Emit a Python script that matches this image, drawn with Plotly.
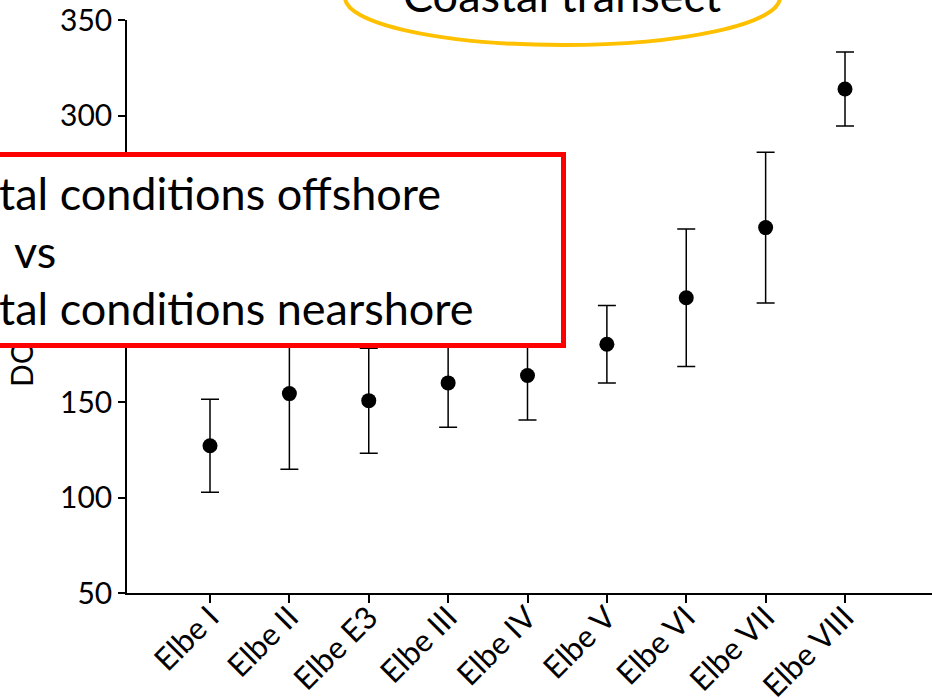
import plotly.graph_objects as go

# stations along the coastal transect
stations = ["Elbe I", "Elbe II", "Elbe E3", "Elbe III", "Elbe IV",
            "Elbe V", "Elbe VI", "Elbe VII", "Elbe VIII"]
station_idx = list(range(len(stations)))

# mean DOC and standard deviation per station
doc_mean = [127.1, 154.4, 150.7, 160.0, 163.9, 180.2, 204.6, 241.3, 313.9]
doc_sd = [24.3, 39.6, 27.5, 23.2, 23.3, 20.3, 36.0, 39.5, 19.4]

y_ticks = [50, 100, 150, 200, 250, 300, 350]

W, H = 932, 698
ML, MR, MT, MB = 127, 0, 20, 105
FONT = "Lato"


def px_x(px):
    # pixel column -> paper fraction
    return (px - ML) / (W - ML - MR)


def px_y(py):
    # pixel row -> paper fraction
    return (H - MB - py) / (H - MT - MB)


fig = go.Figure()

fig.add_trace(go.Scatter(
    x=station_idx,
    y=doc_mean,
    mode="markers",
    marker=dict(size=15, color="black"),
    error_y=dict(type="data", array=doc_sd, visible=True,
                 color="black", thickness=1.5, width=9),
    showlegend=False,
    hoverinfo="skip"
))

# y axis title (mostly hidden behind the red box)
fig.add_annotation(
    xref="paper", yref="paper",
    x=px_x(21), y=px_y(389),
    xanchor="center", yanchor="bottom",
    text="DOC (µmol/L)", textangle=-90, showarrow=False,
    font=dict(family=FONT, size=30, color="black")
)

# red comparison box
fig.add_annotation(
    xref="paper", yref="paper",
    x=px_x(566), y=px_y(152),
    xanchor="right", yanchor="top",
    text=" ", showarrow=False,
    width=590, height=186,
    bgcolor="white", bordercolor="#ff0000", borderwidth=5, borderpad=0
)

box_lines = [
    ("tal conditions offshore", -1, 193),
    ("vs", 14, 251),
    ("tal conditions nearshore", -1, 308),
]
for txt, lx, ly in box_lines:
    fig.add_annotation(
        xref="paper", yref="paper",
        x=px_x(lx), y=px_y(ly),
        xanchor="left", yanchor="middle",
        text=txt, showarrow=False, borderwidth=0, borderpad=0,
        font=dict(family=FONT, size=45, color="black")
    )

# coastal transect label
fig.add_shape(
    type="circle", xref="paper", yref="paper",
    x0=px_x(345), x1=px_x(780), y0=px_y(45), y1=px_y(-50),
    line=dict(color="#ffc000", width=4), layer="above"
)
fig.add_annotation(
    xref="paper", yref="paper",
    x=px_x(562), y=px_y(-5),
    xanchor="center", yanchor="middle",
    text="Coastal transect", showarrow=False,
    font=dict(family=FONT, size=45, color="black")
)

fig.update_layout(
    width=W, height=H,
    margin=dict(l=ML, r=MR, t=MT, b=MB),
    plot_bgcolor="white",
    paper_bgcolor="white",
    font=dict(family=FONT, color="black"),
    xaxis=dict(
        range=[-1.0457, 9.096],
        tickmode="array", tickvals=station_idx, ticktext=stations,
        tickangle=-45,
        showline=True, linecolor="black", linewidth=1.5,
        ticks="outside", ticklen=8, tickwidth=1.5, tickcolor="black",
        ticklabelstandoff=-16,
        showgrid=False, zeroline=False, automargin=False,
        tickfont=dict(family=FONT, size=31, color="black")
    ),
    yaxis=dict(
        range=[50, 350],
        tickmode="array", tickvals=y_ticks,
        showline=True, linecolor="black", linewidth=1.5,
        ticks="outside", ticklen=7, tickwidth=1.5, tickcolor="black",
        showgrid=False, zeroline=False, automargin=False,
        tickfont=dict(family=FONT, size=30, color="black")
    )
)

fig.write_html("out.html", config={"displayModeBar": False},
               post_script="document.body.style.margin='0';")
